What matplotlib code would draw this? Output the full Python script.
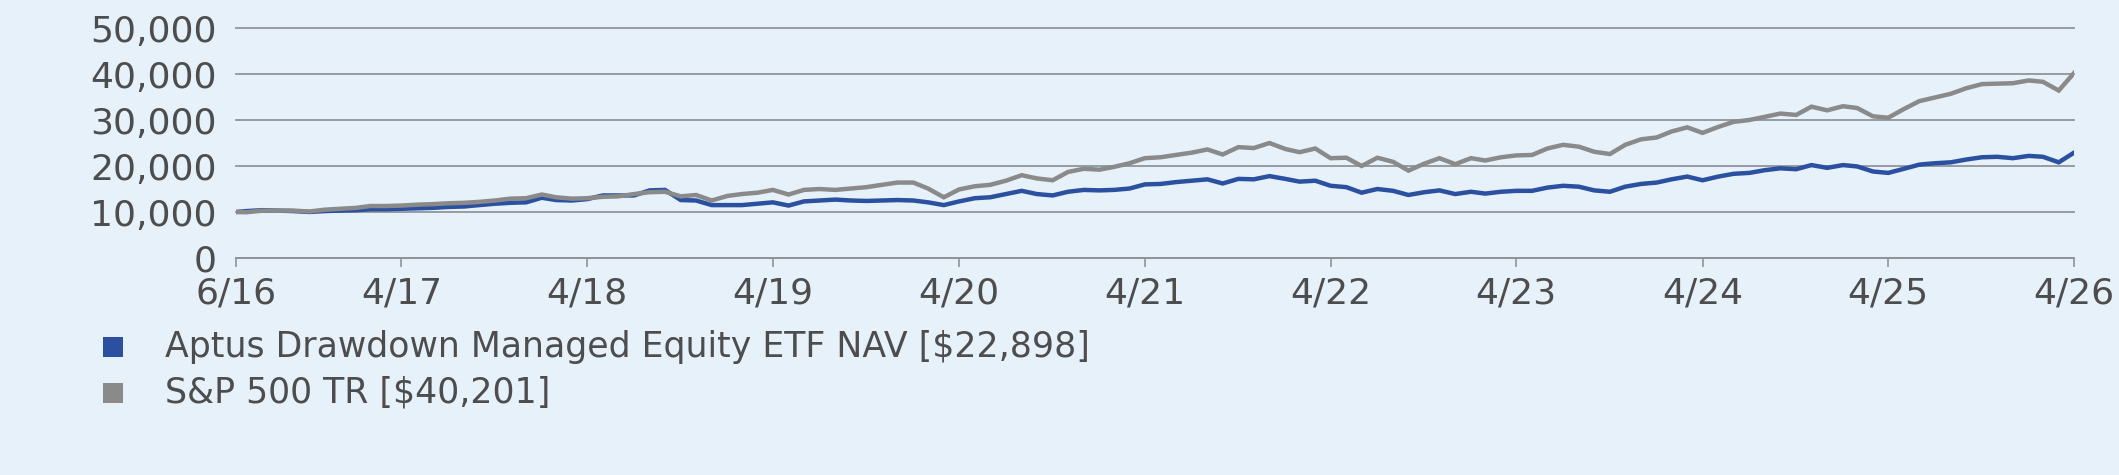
import matplotlib
matplotlib.use("Agg")
import matplotlib.pyplot as plt
from matplotlib.patches import Rectangle
import pandas as pd

# inception point, then month-end values
start_date = "2016-06-09"
end_date = "2026-04-30"
month_ends = pd.date_range("2016-06-30", end_date, freq="ME")

fund_nav = [10000,
    10200, 10400, 10300, 10200, 10000, 10200, 10300,
    10400, 10600, 10600, 10700, 10800, 10900, 11100, 11200, 11500, 11800, 12000, 12100,
    13100, 12600, 12500, 12800, 13600, 13600, 13600, 14700, 14800, 12600, 12500, 11500,
    11500, 11500, 11800, 12100, 11400, 12300, 12500, 12700, 12500, 12400, 12500, 12600,
    12500, 12100, 11500, 12300, 13000, 13200, 13900, 14600, 13900, 13600, 14400, 14800,
    14700, 14800, 15100, 16000, 16100, 16500, 16800, 17100, 16200, 17200, 17100, 17800,
    17200, 16600, 16800, 15700, 15400, 14200, 15000, 14600, 13700, 14300, 14700, 13900,
    14400, 14000, 14400, 14600, 14600, 15300, 15700, 15500, 14700, 14400, 15500, 16100,
    16400, 17100, 17700, 16900, 17700, 18300, 18500, 19100, 19500, 19300, 20200, 19600,
    20200, 19900, 18800, 18500, 19400, 20300, 20600, 20800, 21400, 21900, 22000, 21700,
    22200, 22000, 20800, 22898]

sp500_tr = [10000,
    9950, 10300, 10300, 10300, 10100, 10500, 10700,
    10900, 11300, 11300, 11400, 11600, 11700, 11900, 12000, 12200, 12500, 12900, 13000,
    13800, 13200, 12900, 13000, 13300, 13400, 13900, 14300, 14400, 13400, 13700, 12500,
    13500, 13900, 14200, 14800, 13800, 14800, 15000, 14800, 15100, 15400, 15900, 16400,
    16400, 15100, 13200, 14900, 15600, 15900, 16800, 18000, 17300, 16900, 18700, 19400,
    19200, 19800, 20600, 21700, 21900, 22400, 22900, 23600, 22500, 24100, 23900, 25000,
    23700, 23000, 23800, 21700, 21800, 20000, 21800, 20900, 19000, 20500, 21700, 20400,
    21700, 21200, 21900, 22300, 22400, 23800, 24600, 24200, 23100, 22600, 24600, 25800,
    26200, 27500, 28400, 27200, 28500, 29600, 30000, 30700, 31400, 31100, 32900, 32100,
    33000, 32600, 30800, 30500, 32400, 34100, 34900, 35700, 36900, 37800, 37900, 38000,
    38600, 38300, 36400, 40201]

series_labels = ["Aptus Drawdown Managed Equity ETF NAV [$22,898]", "S&P 500 TR [$40,201]"]
tick_dates = ["2016-06-09"] + [f"{y}-04-30" for y in range(2017, 2027)]
tick_labels = ["6/16"] + [f"4/{y % 100}" for y in range(17, 27)]
y_ticks = [0, 10000, 20000, 30000, 40000, 50000]

bg = "#E6F1FA"
blue = "#2B50A0"
grey = "#8A8A8A"
grid_c = "#8F949A"
text_c = "#4D4D4D"
font = "DejaVu Sans"

dates = [pd.Timestamp(start_date)] + list(month_ends)

W, H = 2119, 475
fig = plt.figure(figsize=(W / 100, H / 100), dpi=100)
fig.patch.set_facecolor(bg)
ax = fig.add_axes([236 / W, 1 - 258 / H, (2074 - 236) / W, (258 - 28) / H])
ax.set_facecolor(bg)

ax.plot(dates, fund_nav, color=blue, lw=3.2, solid_joinstyle="miter", zorder=3)
ax.plot(dates, sp500_tr, color=grey, lw=3.2, solid_joinstyle="miter", zorder=4)

ax.set_ylim(0, 50000)
ax.set_xlim(pd.Timestamp(start_date), pd.Timestamp(end_date))
ax.set_yticks(y_ticks)
ax.set_yticklabels([f"{v:,}" for v in y_ticks])
ax.set_xticks([pd.Timestamp(d) for d in tick_dates])
ax.set_xticklabels(tick_labels)

ax.yaxis.grid(True, color=grid_c, lw=1.3)
for gl in ax.get_ygridlines():
    gl.set_clip_on(False)
ax.set_axisbelow(True)
for s in ["top", "right", "left"]:
    ax.spines[s].set_visible(False)
ax.spines["bottom"].set_color(grid_c)
ax.spines["bottom"].set_linewidth(1.3)

ax.tick_params(axis="y", length=0, pad=14, labelsize=26, labelcolor=text_c)
ax.tick_params(axis="x", length=6.5, width=1.2, color=grid_c, pad=7,
               labelsize=26, labelcolor=text_c)
for lab in ax.get_xticklabels() + ax.get_yticklabels():
    lab.set_family(font)
for lab in ax.get_yticklabels():
    lab.set_va("center_baseline")

# legend
for i, (lab, col) in enumerate(zip(series_labels, [blue, grey])):
    cy = 347 + i * 46
    fig.add_artist(Rectangle(((113 - 10) / W, 1 - (cy + 10) / H), 20 / W, 20 / H,
                             transform=fig.transFigure, color=col, lw=0))
    fig.text(165 / W, 1 - cy / H, lab, ha="left", va="center",
             fontsize=25, color=text_c, family=font)

fig.savefig("out.png", dpi=100, facecolor=bg)
